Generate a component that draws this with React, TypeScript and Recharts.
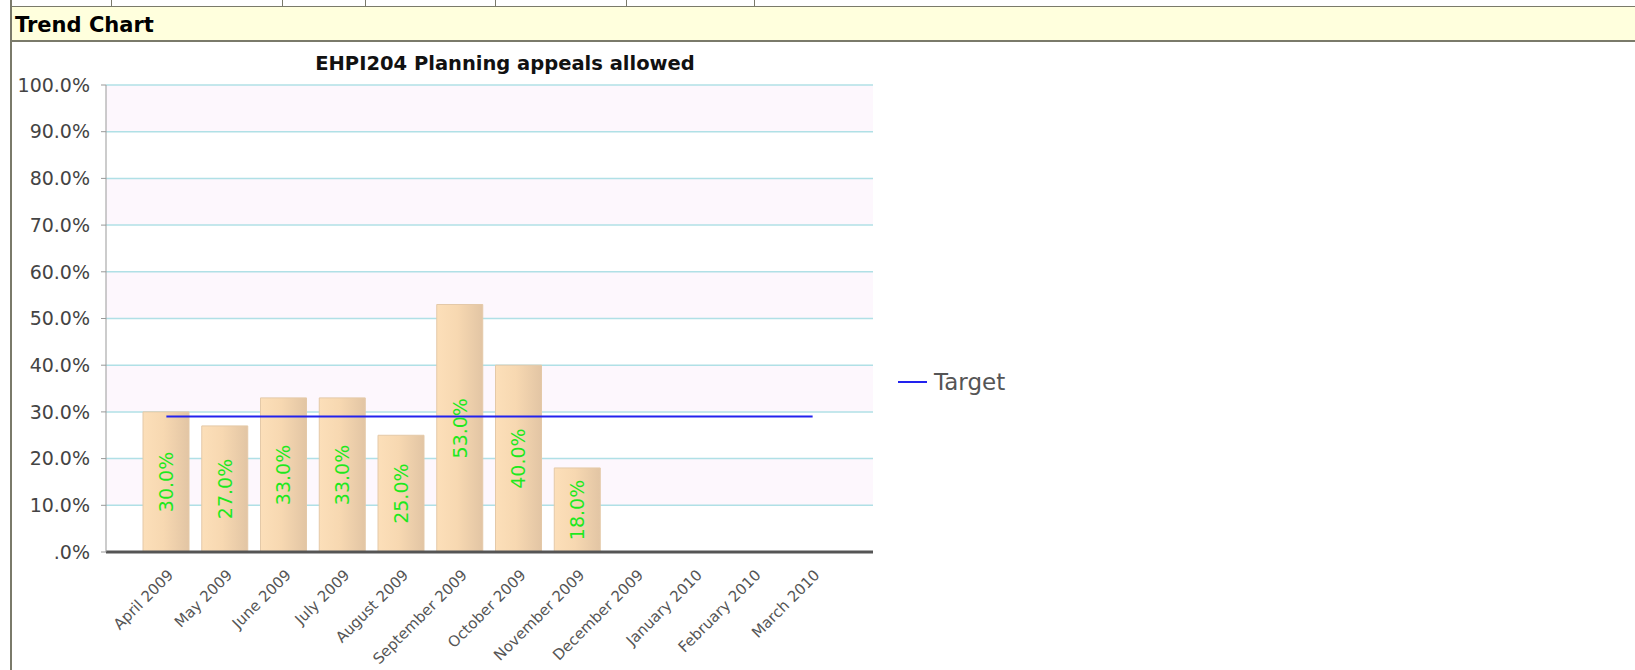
import React from "react";
import {
  ComposedChart,
  Bar,
  Line,
  XAxis,
  YAxis,
  CartesianGrid,
  Legend,
  LabelList,
} from "recharts";

const months = [
  "April 2009",
  "May 2009",
  "June 2009",
  "July 2009",
  "August 2009",
  "September 2009",
  "October 2009",
  "November 2009",
  "December 2009",
  "January 2010",
  "February 2010",
  "March 2010",
];
const allowed = [30, 27, 33, 33, 25, 53, 40, 18, null, null, null, null];
const target = [29, 29, 29, 29, 29, 29, 29, 29, 29, 29, 29, 29];
const yTicks = [0, 10, 20, 30, 40, 50, 60, 70, 80, 90, 100];
const topCellLines = [111, 282, 365, 495, 626, 754];

const data = months.map((m, i) => ({ month: m, allowed: allowed[i], target: target[i] }));

const FONT = "'DejaVu Sans', Verdana, sans-serif";

function pct(v: number) {
  return v === 0 ? ".0%" : `${v.toFixed(1)}%`;
}

function MonthTick(props: any) {
  const { x, y, payload } = props;
  return (
    <g transform={`translate(${x + 8},${y + 16}) rotate(-45)`}>
      <text x={0} y={0} textAnchor="end" fill="#555" fontSize={15} fontFamily={FONT}>
        {payload.value}
      </text>
    </g>
  );
}

function BarValue(props: any) {
  const { x, y, width, height, value } = props;
  if (value == null) return null;
  const cx = x + width / 2;
  const cy = y + height / 2;
  return (
    <text
      x={cx}
      y={cy}
      transform={`rotate(-90, ${cx}, ${cy})`}
      textAnchor="middle"
      dominantBaseline="central"
      fill="#1ee81e"
      fontSize={19}
      fontFamily={FONT}
    >
      {pct(Number(value))}
    </text>
  );
}

function TargetLegend() {
  return (
    <div style={{ display: "flex", alignItems: "center", fontFamily: FONT }}>
      <span style={{ display: "inline-block", width: 29, height: 2, background: "#2222ee" }} />
      <span style={{ marginLeft: 7, fontSize: 23, color: "#555" }}>Target</span>
    </div>
  );
}

export default function App() {
  return (
    <div style={{ position: "absolute", left: 0, top: 0, width: 1635, height: 670, background: "#fff", overflow: "hidden" }}>
      {/* bottom of the table row above */}
      <div style={{ position: "absolute", left: 10, top: 0, width: 1625, height: 6, borderBottom: "2px solid #7a7a6a" }} />
      {topCellLines.map((lx) => (
        <div key={lx} style={{ position: "absolute", left: lx, top: 0, width: 1, height: 7, background: "#7a7a6a" }} />
      ))}
      {/* header band */}
      <div
        style={{
          position: "absolute",
          left: 10,
          top: 7,
          width: 1625,
          height: 33,
          background: "#ffffdd",
          borderBottom: "2px solid #7a7a6a",
          fontFamily: FONT,
          fontWeight: "bold",
          fontSize: 21,
          lineHeight: "21px",
        }}
      >
        <span style={{ position: "absolute", left: 5, top: 8, color: "#000" }}>Trend Chart</span>
      </div>
      <div style={{ position: "absolute", left: 10, top: 0, width: 2, height: 670, background: "#7a7a6a" }} />

      <div
        style={{
          position: "absolute",
          left: 310,
          top: 54,
          width: 390,
          textAlign: "center",
          fontFamily: FONT,
          fontWeight: "bold",
          fontSize: 19.5,
          lineHeight: "20px",
          color: "#111",
          whiteSpace: "nowrap",
        }}
      >
        EHPI204 Planning appeals allowed
      </div>

      <div style={{ position: "absolute", left: 0, top: 0 }}>
        <ComposedChart width={1100} height={670} data={data} margin={{ top: 85, right: 227, bottom: 8, left: 10 }}>
          <defs>
            <linearGradient id="barGrad" x1="0" y1="0" x2="1" y2="0">
              <stop offset="0%" stopColor="#fcdfb9" />
              <stop offset="45%" stopColor="#f7d8b1" />
              <stop offset="100%" stopColor="#e2c5a4" />
            </linearGradient>
          </defs>
          <CartesianGrid
            vertical={false}
            stroke="#b0e0e6"
            strokeWidth={1.5}
            horizontalFill={["#fdf7fd", "#ffffff"]}
          />
          <XAxis
            dataKey="month"
            interval={0}
            padding={{ left: 31, right: 31 }}
            height={110}
            axisLine={{ stroke: "#555", strokeWidth: 3 }}
            tickLine={false}
            tick={<MonthTick />}
          />
          <YAxis
            domain={[0, 100]}
            ticks={yTicks}
            width={96}
            tickFormatter={pct}
            axisLine={{ stroke: "#999" }}
            tickLine={{ stroke: "#999" }}
            tickSize={5}
            tickMargin={11}
            tick={{ fill: "#444", fontSize: 19, fontFamily: FONT }}
          />
          <Legend
            layout="vertical"
            align="center"
            verticalAlign="middle"
            wrapperStyle={{ left: 898, top: 369, width: "auto" }}
            content={<TargetLegend />}
          />
          <Bar
            dataKey="allowed"
            barSize={46}
            fill="url(#barGrad)"
            stroke="#e4c9a8"
            strokeWidth={1}
            legendType="none"
            isAnimationActive={false}
          >
            <LabelList dataKey="allowed" content={<BarValue />} />
          </Bar>
          <Line
            dataKey="target"
            stroke="#2222ee"
            strokeWidth={2}
            dot={false}
            activeDot={false}
            isAnimationActive={false}
          />
        </ComposedChart>
      </div>
    </div>
  );
}
